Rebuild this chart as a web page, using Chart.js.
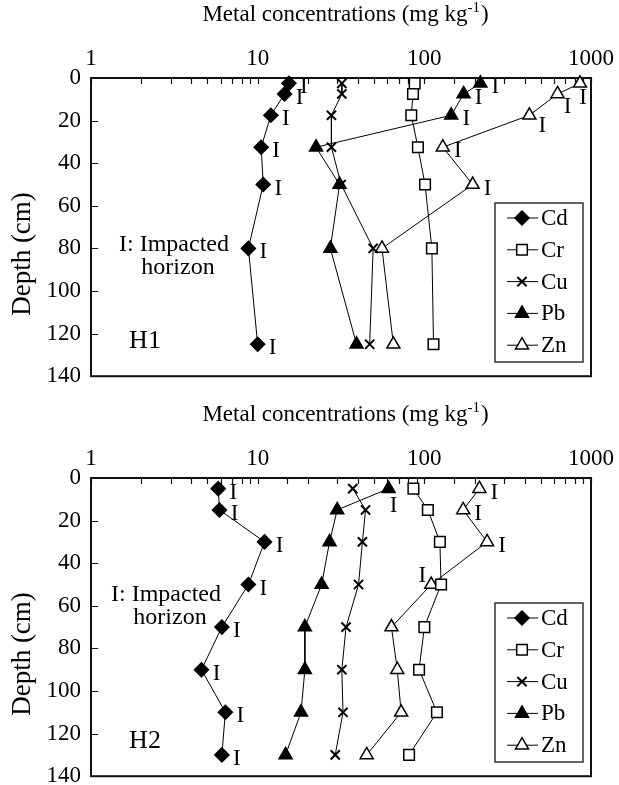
<!DOCTYPE html>
<html>
<head>
<meta charset="utf-8">
<script src="https://cdn.jsdelivr.net/npm/chart.js@4.4.0/dist/chart.umd.min.js"></script>
<style>
	body { margin: 0; background: #fff; overflow: hidden; }
	.panel { position: absolute; left: 0; width: 619px; height: 400px; }
</style>
</head>
<body>
<div class="panel" style="top:0"><canvas id="chartH1" width="619" height="400"></canvas></div>
<div class="panel" style="top:400px"><canvas id="chartH2" width="619" height="400"></canvas></div>
<script>
const metals = ["Cd", "Cr", "Cu", "Pb", "Zn"];

// profile H1
const depthH1 = [2.5, 7.5, 17.5, 32.5, 50, 80, 125];
const cdH1 = [15.4, 14.5, 12.0, 10.5, 10.8, 8.8, 10.0];
const crH1 = [87.5, 85.5, 83.5, 91.5, 101, 111, 113.5];
const cuH1 = [32, 32, 27.7, 27.7, 31.7, 49.3, 47];
const pbH1 = [217, 172, 145, 22.4, 31, 27.3, 39.2];
const znH1 = [859, 630, 427, 129, 195, 55.7, 65.2];
const impactedH1 = {
	Cd: [1, 1, 1, 1, 1, 1, 1],
	Pb: [1, 1, 1, 0, 0, 0, 0],
	Zn: [1, 1, 1, 1, 1, 0, 0],
};

// profile H2
const depthH2 = [5, 15, 30, 50, 70, 90, 110, 130];
const cdH2 = [5.8, 5.9, 11.0, 8.8, 6.1, 4.6, 6.4, 6.1];
const crH2 = [86, 105, 124, 126, 100, 93, 119, 81];
const cuH2 = [37.2, 44.4, 42.5, 40.3, 33.9, 32.0, 32.5, 29.2];
const pbH2 = [61, 30, 27, 24.2, 19.2, 19.2, 18.2, 14.7];
const znH2 = [214, 171, 238, 110, 63.5, 68.8, 72.6, 45.1];
const impactedH2 = {
	Cd: [1, 1, 1, 1, 1, 1, 1, 1],
	Pb: [1, 0, 0, 0, 0, 0, 0, 0],
	Zn: [1, 1, 1, 1, 0, 0, 0, 0],
};

const majorTicks = [1, 10, 100, 1000];
const serif = '"Liberation Serif", "DejaVu Serif", serif';

const markers = {
	Cd: { style: "rectRot", radius: 7, fill: "#000", width: 1.5 },
	Cr: { style: "rect", radius: 7.5, fill: "#fff", width: 1.5 },
	Cu: { style: "crossRot", radius: 6.5, fill: "#000", width: 2 },
	Pb: { style: "triangle", radius: 7.5, fill: "#000", width: 1.5 },
	Zn: { style: "triangle", radius: 7.5, fill: "#fff", width: 1.5 },
};

// draws frame, inner tick marks, titles, "I" labels, legend and notes
const decorPlugin = {
	id: "decor",
	beforeDatasetsDraw(chart) {
		const { ctx, chartArea: a, scales } = chart;
		ctx.save();
		ctx.strokeStyle = "#111";
		ctx.lineWidth = 1.2;
		ctx.beginPath();
		scales.x.ticks.forEach((t) => {
			const px = Math.round(scales.x.getPixelForValue(t.value)) + 0.5;
			ctx.moveTo(px, a.top);
			ctx.lineTo(px, a.top + 6);
		});
		scales.y.ticks.forEach((t) => {
			const py = Math.round(scales.y.getPixelForValue(t.value)) + 0.5;
			ctx.moveTo(a.left, py);
			ctx.lineTo(a.left + 7, py);
		});
		ctx.stroke();
		ctx.lineWidth = 2;
		ctx.strokeRect(a.left, a.top, a.right - a.left, a.bottom - a.top);
		ctx.restore();
	},
	afterDraw(chart, args, opts) {
		const { ctx, chartArea: a } = chart;
		ctx.save();
		ctx.fillStyle = "#000";
		ctx.textBaseline = "middle";

		// x axis title with superscript
		const main = "Metal concentrations (mg kg";
		ctx.font = `23px ${serif}`;
		const w1 = ctx.measureText(main).width;
		ctx.font = `15px ${serif}`;
		const w2 = ctx.measureText("-1").width;
		ctx.font = `23px ${serif}`;
		const w3 = ctx.measureText(")").width;
		const tx = 345 - (w1 + w2 + w3) / 2;
		ctx.textAlign = "left";
		ctx.fillText(main, tx, 15);
		ctx.font = `15px ${serif}`;
		ctx.fillText("-1", tx + w1, 8);
		ctx.font = `23px ${serif}`;
		ctx.fillText(")", tx + w1 + w2 + 1, 15);

		// y axis title
		ctx.save();
		ctx.translate(23, 254);
		ctx.rotate(-Math.PI / 2);
		ctx.textAlign = "center";
		ctx.font = `27px ${serif}`;
		ctx.fillText("Depth (cm)", 0, 0);
		ctx.restore();

		// "I" impacted marks
		ctx.textAlign = "center";
		ctx.font = `23px ${serif}`;
		chart.data.datasets.forEach((ds, i) => {
			if (!ds.impacted) return;
			const meta = chart.getDatasetMeta(i);
			ds.impacted.forEach((flag, j) => {
				if (!flag) return;
				const pt = meta.data[j];
				let dx = 15;
				let dy = 4;
				const nudge = opts.nudges[`${ds.label}:${j}`];
				if (nudge) {
					[dx, dy] = nudge;
				}
				ctx.fillText("I", pt.x + dx, pt.y + dy);
			});
		});

		// notes
		ctx.font = `24px ${serif}`;
		ctx.fillText("I: Impacted", opts.noteX, a.top + opts.noteY);
		ctx.fillText("horizon", opts.noteX + 4, a.top + opts.noteY + 23);
		ctx.font = `26px ${serif}`;
		ctx.fillText(opts.profile, 145, a.top + 263);

		// legend
		const bx = a.left + 404;
		const by = a.top + 125;
		ctx.strokeStyle = "#333";
		ctx.lineWidth = 1.5;
		ctx.strokeRect(bx, by, 88, 159);
		chart.data.datasets.forEach((ds, i) => {
			const ly = by + 15 + i * 31.8;
			ctx.strokeStyle = "#000";
			ctx.lineWidth = 1;
			ctx.beginPath();
			ctx.moveTo(bx + 12, ly);
			ctx.lineTo(bx + 43, ly);
			ctx.stroke();
			ctx.fillStyle = ds.pointBackgroundColor;
			ctx.lineWidth = ds.pointBorderWidth;
			Chart.helpers.drawPoint(ctx, {
				pointStyle: ds.pointStyle,
				radius: ds.pointRadius,
				rotation: 0,
				borderWidth: ds.pointBorderWidth,
			}, bx + 27, ly);
			ctx.fillStyle = "#000";
			ctx.textAlign = "left";
			ctx.font = `23px ${serif}`;
			ctx.fillText(ds.label, bx + 46, ly + 1);
		});
		ctx.restore();
	},
};

function buildChart(canvasId, depths, series, impacted, decor) {
	const datasets = metals.map((m, i) => ({
		label: m,
		data: depths.map((d, j) => ({ x: series[i][j], y: d })),
		impacted: impacted[m] || null,
		showLine: true,
		borderColor: "#000",
		borderWidth: 1,
		pointStyle: markers[m].style,
		pointRadius: markers[m].radius,
		pointBackgroundColor: markers[m].fill,
		pointBorderColor: "#000",
		pointBorderWidth: markers[m].width,
		clip: false,
	}));

	return new Chart(document.getElementById(canvasId), {
		type: "scatter",
		data: { datasets },
		options: {
			responsive: false,
			animation: false,
			devicePixelRatio: 1,
			layout: {
				autoPadding: false,
				padding: { left: 0, top: 0, right: 17, bottom: 22 },
			},
			scales: {
				x: {
					type: "logarithmic",
					position: "top",
					min: 1,
					max: 1000,
					grid: { display: false, drawTicks: false },
					border: { display: false },
					ticks: {
						autoSkip: false,
						maxRotation: 0,
						padding: 5,
						color: "#000",
						font: { family: serif, size: 23 },
						callback: (v) => (majorTicks.includes(Math.round(v)) && Math.abs(v - Math.round(v)) < 1e-6 ? String(Math.round(v)) : ""),
					},
					afterFit: (s) => { s.height = 78; },
				},
				y: {
					type: "linear",
					reverse: true,
					min: 0,
					max: 140,
					grid: { display: false, drawTicks: false },
					border: { display: false },
					ticks: {
						stepSize: 20,
						padding: 10,
						color: "#000",
						font: { family: serif, size: 23 },
					},
					afterFit: (s) => { s.width = 91; },
				},
			},
			plugins: {
				legend: { display: false },
				tooltip: { enabled: false },
				decor,
			},
		},
		plugins: [decorPlugin],
	});
}

buildChart("chartH1", depthH1, [cdH1, crH1, cuH1, pbH1, znH1], impactedH1, {
	profile: "H1",
	noteX: 174,
	noteY: 167,
	nudges: { "Zn:0": [3, 15], "Zn:1": [10, 13], "Zn:2": [13, 11] },
});

buildChart("chartH2", depthH2, [cdH2, crH2, cuH2, pbH2, znH2], impactedH2, {
	profile: "H2",
	noteX: 166,
	noteY: 117,
	nudges: { "Pb:0": [5, 17], "Zn:3": [-9, -9] },
});
</script>
</body>
</html>
